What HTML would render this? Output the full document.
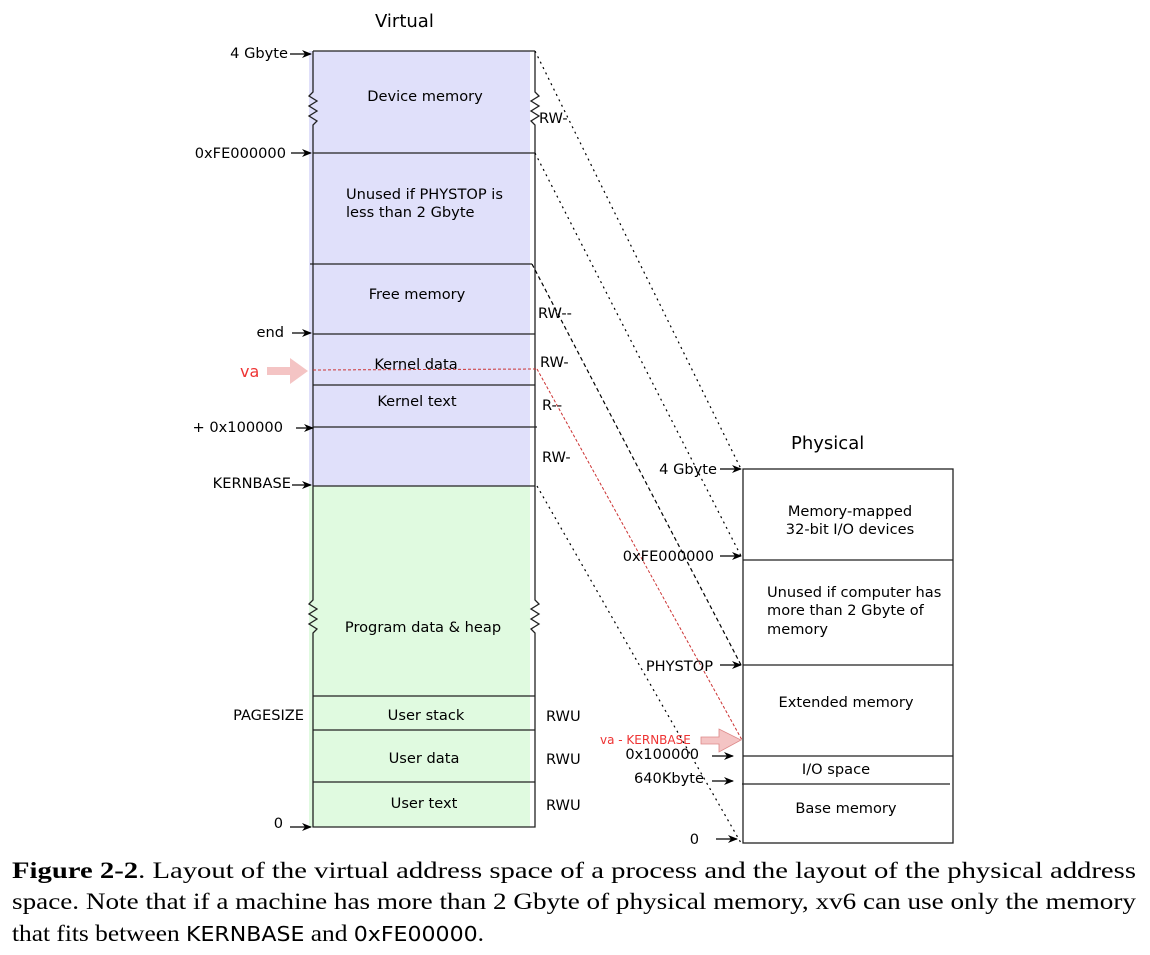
<!DOCTYPE html>
<html><head><meta charset="utf-8"><style>
html,body{margin:0;padding:0;background:#fff;}
svg{display:block;}
.s{font-family:"DejaVu Sans","Liberation Sans",sans-serif;font-size:14.6px;fill:#000;}
.c{font-family:"Liberation Serif",serif;font-size:23px;fill:#000;}
</style></head><body>
<svg width="1150" height="955" viewBox="0 0 1150 955" xmlns="http://www.w3.org/2000/svg">
<defs>
<marker id="ar" markerWidth="10" markerHeight="8" refX="9" refY="4" orient="auto" markerUnits="userSpaceOnUse">
<path d="M0,0 L10,4 L0,8 L3,4 z" fill="#000"/></marker>
</defs>
<rect x="309" y="51" width="221" height="435" fill="#e0e0fa"/>
<rect x="309" y="486" width="221" height="341" fill="#e0fae0"/>
<g stroke="#222" stroke-width="1.3" fill="none">
<line x1="313" y1="51" x2="535" y2="51"/>
<polyline points="313,51 313,92 309,96 317,101 309,106 317,111 309,116 317,121 313,125 313,600 309,604 317,609 309,614 317,619 309,624 317,629 313,633 313,827 535,827 535,633 531,629 539,624 531,619 539,614 531,609 539,604 535,600 535,125 531,121 539,116 531,111 539,106 531,101 539,96 535,92 535,51"/>
<line x1="313" y1="153" x2="535" y2="153"/>
<line x1="310" y1="264" x2="532" y2="264"/>
<line x1="313" y1="334" x2="535" y2="334"/>
<line x1="313" y1="385" x2="535" y2="385"/>
<line x1="313" y1="427" x2="537" y2="427"/>
<line x1="313" y1="486" x2="535" y2="486"/>
<line x1="313" y1="696" x2="535" y2="696"/>
<line x1="313" y1="730" x2="535" y2="730"/>
<line x1="313" y1="782" x2="535" y2="782"/>
</g>
<g stroke="#222" stroke-width="1.3" fill="none">
<rect x="743" y="469" width="210" height="374"/>
<line x1="743" y1="560" x2="953" y2="560"/>
<line x1="743" y1="665" x2="953" y2="665"/>
<line x1="743" y1="756" x2="953" y2="756"/>
<line x1="742" y1="784" x2="950" y2="784"/>
</g>
<g fill="none" stroke-width="1.2">
<line x1="535" y1="51" x2="741" y2="469" stroke="#000" stroke-dasharray="2,4"/>
<line x1="535" y1="153" x2="741" y2="556" stroke="#000" stroke-dasharray="2,4"/>
<line x1="532" y1="264" x2="741" y2="665" stroke="#000" stroke-dasharray="4,3"/>
<line x1="537" y1="486" x2="741" y2="843" stroke="#000" stroke-dasharray="2,4"/>
<line x1="313" y1="370" x2="537" y2="369" stroke="#c33" stroke-dasharray="3,2" stroke-width="1"/>
<line x1="537" y1="369" x2="742" y2="740" stroke="#c33" stroke-dasharray="3,2" stroke-width="1"/>
</g>
<polygon points="267,367 290,367 290,358 308,371 290,384 290,375 267,375" fill="#f4c4c4"/>
<polygon points="701,737 719,737 719,729 741,740 719,752 719,744 701,744" fill="#f4c4c4" stroke="#d88" stroke-width="0.8"/>
<g stroke="#000" stroke-width="1.2" marker-end="url(#ar)">
<line x1="290" y1="54" x2="311" y2="54"/>
<line x1="291" y1="153" x2="311" y2="153"/>
<line x1="292" y1="333" x2="311" y2="333"/>
<line x1="296" y1="428" x2="313" y2="428"/>
<line x1="292" y1="485" x2="311" y2="485"/>
<line x1="290" y1="827" x2="311" y2="827"/>
<line x1="720" y1="469" x2="741" y2="469"/>
<line x1="720" y1="556" x2="741" y2="556"/>
<line x1="720" y1="665" x2="741" y2="665"/>
<line x1="712" y1="756" x2="733" y2="756"/>
<line x1="712" y1="781" x2="733" y2="781"/>
<line x1="716" y1="839" x2="737" y2="839"/>
</g>
<text class="s" x="375" y="27" style="font-size:18px">Virtual</text>
<text class="s" x="791" y="449" style="font-size:18px">Physical</text>
<g class="s" text-anchor="end">
<text x="288" y="58">4 Gbyte</text>
<text x="286" y="158">0xFE000000</text>
<text x="284" y="337">end</text>
<text x="283" y="432">+ 0x100000</text>
<text x="291" y="488">KERNBASE</text>
<text x="304" y="720">PAGESIZE</text>
<text x="283" y="828">0</text>
<text x="717" y="474">4 Gbyte</text>
<text x="714" y="561">0xFE000000</text>
<text x="713" y="671">PHYSTOP</text>
<text x="699" y="759">0x100000</text>
<text x="704" y="783">640Kbyte</text>
<text x="699" y="844">0</text>
</g>
<text x="240" y="377" style="font-family:'DejaVu Sans',sans-serif;font-size:16px;fill:#e33">va</text>
<text x="600" y="744" style="font-family:'DejaVu Sans',sans-serif;font-size:12px;fill:#e33">va - KERNBASE</text>
<g class="s" text-anchor="middle">
<text x="425" y="101">Device memory</text>
<text x="417" y="299">Free memory</text>
<text x="416" y="369">Kernel data</text>
<text x="417" y="406">Kernel text</text>
<text x="423" y="632">Program data &amp; heap</text>
<text x="426" y="720">User stack</text>
<text x="424" y="763">User data</text>
<text x="424" y="808">User text</text>
<text x="850" y="516">Memory-mapped</text>
<text x="850" y="534">32-bit I/O devices</text>
<text x="846" y="707">Extended memory</text>
<text x="836" y="774">I/O space</text>
<text x="846" y="813">Base memory</text>
</g>
<g class="s">
<text x="346" y="199">Unused if PHYSTOP is</text>
<text x="346" y="217">less than 2 Gbyte</text>
<text x="767" y="597">Unused if computer has</text>
<text x="767" y="615">more than 2 Gbyte of</text>
<text x="767" y="634">memory</text>
<text x="539" y="123">RW-</text>
<text x="538" y="318">RW--</text>
<text x="540" y="367">RW-</text>
<text x="542" y="410">R--</text>
<text x="542" y="462">RW-</text>
<text x="546" y="721">RWU</text>
<text x="546" y="764">RWU</text>
<text x="546" y="810">RWU</text>
</g>
<text class="c" x="12" y="878" textLength="1124" lengthAdjust="spacingAndGlyphs"><tspan font-weight="bold">Figure 2-2</tspan>.  Layout of the virtual address space of a process and the layout of the physical address</text>
<text class="c" x="12" y="909" textLength="1124" lengthAdjust="spacingAndGlyphs">space. Note that if a machine has more than 2 Gbyte of physical memory, xv6 can use only the memory</text>
<text class="c" x="12" y="941" textLength="472" lengthAdjust="spacingAndGlyphs">that fits between <tspan font-family="'DejaVu Sans',sans-serif" font-size="20">KERNBASE</tspan> and <tspan font-family="'DejaVu Sans',sans-serif" font-size="20">0xFE00000</tspan>.</text>
</svg>
</body></html>
